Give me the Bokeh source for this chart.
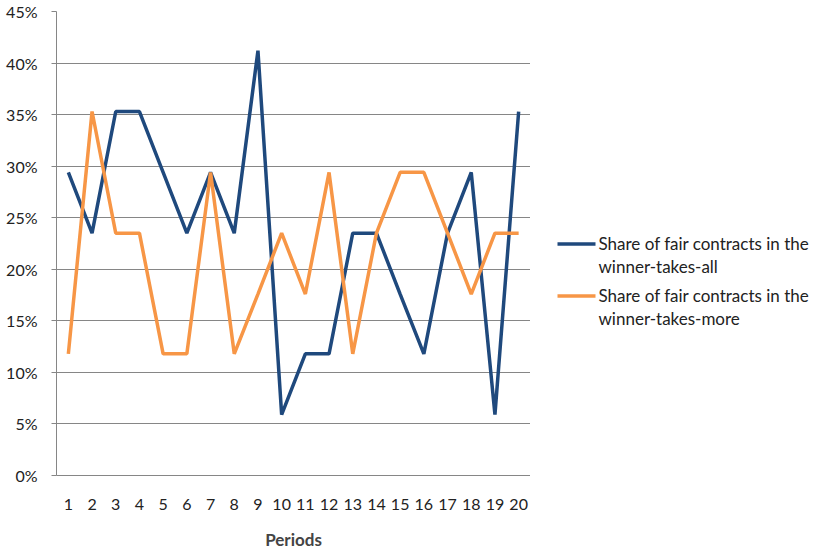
from bokeh.plotting import figure
from bokeh.layouts import row
from bokeh.models import NumeralTickFormatter, FixedTicker, Range1d
from bokeh.core.properties import value
from bokeh.embed import file_html
from bokeh.resources import INLINE

periods = [str(i) for i in range(1, 21)]
winner_takes_all = [0.294, 0.235, 0.353, 0.353, 0.294, 0.235, 0.294, 0.235, 0.412, 0.059,
                    0.118, 0.118, 0.235, 0.235, 0.176, 0.118, 0.235, 0.294, 0.059, 0.353]
winner_takes_more = [0.118, 0.353, 0.235, 0.235, 0.118, 0.118, 0.294, 0.118, 0.176, 0.235,
                     0.176, 0.294, 0.118, 0.235, 0.294, 0.294, 0.235, 0.176, 0.235, 0.235]
y_ticks = [0, 0.05, 0.10, 0.15, 0.20, 0.25, 0.30, 0.35, 0.40, 0.45]
series_names = ["Share of fair contracts in the\nwinner-takes-all",
                "Share of fair contracts in the\nwinner-takes-more"]
series_colors = ["#1F497D", "#F79646"]

FONT = "Lato"
GRAY = "#868686"
FS = "16px"
TXT = "#222222"
H = 552
TOP, BOTTOM = 11, 476

p = figure(width=530, height=H, x_range=periods, y_range=Range1d(0, 0.45),
           output_backend="svg", toolbar_location=None,
           min_border_left=56, min_border_right=0, min_border_top=TOP, min_border_bottom=H - BOTTOM)
p.outline_line_color = None

p.line(periods, winner_takes_all, line_color=series_colors[0], line_width=3.5)
p.line(periods, winner_takes_more, line_color=series_colors[1], line_width=3.5)

p.yaxis.ticker = FixedTicker(ticks=y_ticks)
p.yaxis.formatter = NumeralTickFormatter(format="0%")
p.yaxis.axis_line_color = GRAY
p.yaxis.major_tick_line_color = GRAY
p.yaxis.major_tick_out = 5
p.yaxis.major_tick_in = 0
p.yaxis.minor_tick_line_color = None
p.yaxis.major_label_standoff = 14
p.yaxis.major_label_text_font = FONT
p.yaxis.major_label_text_font_size = FS
p.yaxis.major_label_text_color = TXT

p.xaxis.axis_line_color = GRAY
p.xaxis.major_tick_line_color = None
p.xaxis.major_label_standoff = 17
p.xaxis.major_label_text_font = FONT
p.xaxis.major_label_text_font_size = FS
p.xaxis.major_label_text_color = TXT
p.xaxis.axis_label = "Periods"
p.xaxis.axis_label_text_font = FONT
p.xaxis.axis_label_text_font_style = "bold"
p.xaxis.axis_label_text_font_size = "17px"
p.xaxis.axis_label_standoff = 16

p.xgrid.grid_line_color = None
p.ygrid.grid_line_color = GRAY
p.ygrid.grid_line_width = 1

# legend panel: frame matches the main frame vertically; coordinates equal page pixels
leg = figure(width=288, height=H, x_range=Range1d(530, 818), y_range=Range1d(BOTTOM, TOP),
             output_backend="svg", toolbar_location=None,
             min_border_left=0, min_border_right=0, min_border_top=TOP, min_border_bottom=H - BOTTOM)
leg.axis.visible = False
leg.grid.visible = False
leg.outline_line_color = None

item_y = [244, 296]
for name, color, y in zip(series_names, series_colors, item_y):
    leg.line([557, 595], [y, y], line_color=color, line_width=3.5)
    for k, part in enumerate(name.split("\n")):
        leg.text([598], [y + 23 * k], text=[part], text_font=value(FONT),
                 text_font_size="17px", text_color=TXT,
                 text_baseline="middle", text_align="left")

layout = row(p, leg, spacing=0)
open("out.html", "w").write(file_html(layout, INLINE))
